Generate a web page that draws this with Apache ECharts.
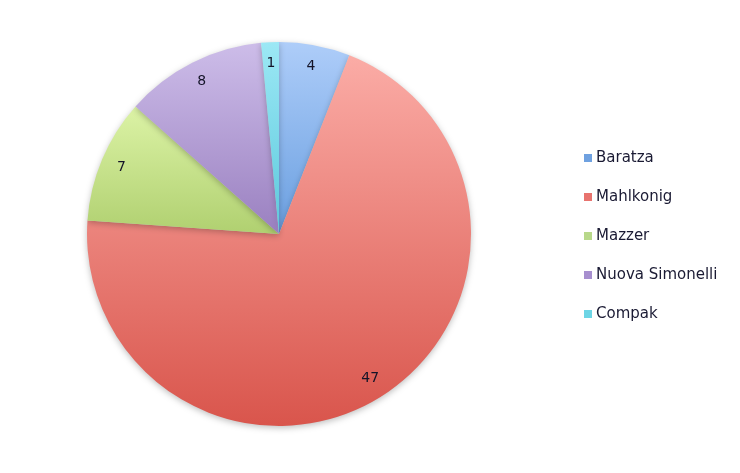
<!DOCTYPE html>
<html>
<head>
<meta charset="utf-8">
<script src="https://cdn.jsdelivr.net/npm/echarts@6/dist/echarts.min.js"></script>
<style>html,body{margin:0;padding:0;background:#fff}#c{width:740px;height:473px}</style>
</head>
<body>
<div id="c"></div>
<script>
var categories = ['Baratza', 'Mahlkonig', 'Mazzer', 'Nuova Simonelli', 'Compak'];
var values = [4, 47, 7, 8, 1];
var topColors = ['#aecdf9', '#fbaca6', '#dcf3a6', '#cdbde9', '#9ce8f5'];
var bottomColors = ['#6a9fe0', '#d9554c', '#b0d070', '#9a80c0', '#5cc9dc'];
var legendColors = ['#6fa1e0', '#e8736e', '#b8d88a', '#a78fcf', '#6dd5e5'];

var cx = 279, cy = 234, R = 192;
var chart = echarts.init(document.getElementById('c'));
var mainData = categories.map(function (n, i) {
  return {
    name: n, value: values[i],
    itemStyle: {
      color: new echarts.graphic.LinearGradient(0, 0, 0, 1, [
        {offset: 0, color: topColors[i]}, {offset: 1, color: bottomColors[i]}
      ])
    }
  };
});
var labelData = categories.map(function (n, i) {
  return {name: n, value: values[i]};
});
chart.setOption({
  animation: false,
  legend: {
    orient: 'vertical', left: 579, top: 145,
    itemWidth: 8, itemHeight: 8, itemGap: 23,
    icon: 'rect',
    data: categories.map(function (n, i) { return {name: n, itemStyle: {color: legendColors[i]}}; }),
    textStyle: {fontFamily: 'DejaVu Sans', fontSize: 15, color: '#1a1a33', lineHeight: 16, padding: [0, 0, 0, -1]}
  },
  series: [{
    type: 'pie', center: [cx, cy], radius: [0, R], startAngle: 90, clockwise: true,
    label: {show: false}, labelLine: {show: false},
    itemStyle: {shadowBlur: 6, shadowColor: 'rgba(0,0,0,0.25)', shadowOffsetY: 2},
    emphasis: {disabled: true},
    data: mainData
  }, {
    type: 'pie', center: [cx, cy], radius: [R * 0.75, R], startAngle: 90, clockwise: true,
    silent: true, legendHoverLink: false,
    itemStyle: {color: 'rgba(0,0,0,0)'},
    label: {show: true, position: 'inside', formatter: '{c}', fontFamily: 'DejaVu Sans', fontSize: 14, color: '#141428'},
    labelLine: {show: false},
    emphasis: {disabled: true},
    data: labelData
  }]
});
</script>
</body>
</html>
